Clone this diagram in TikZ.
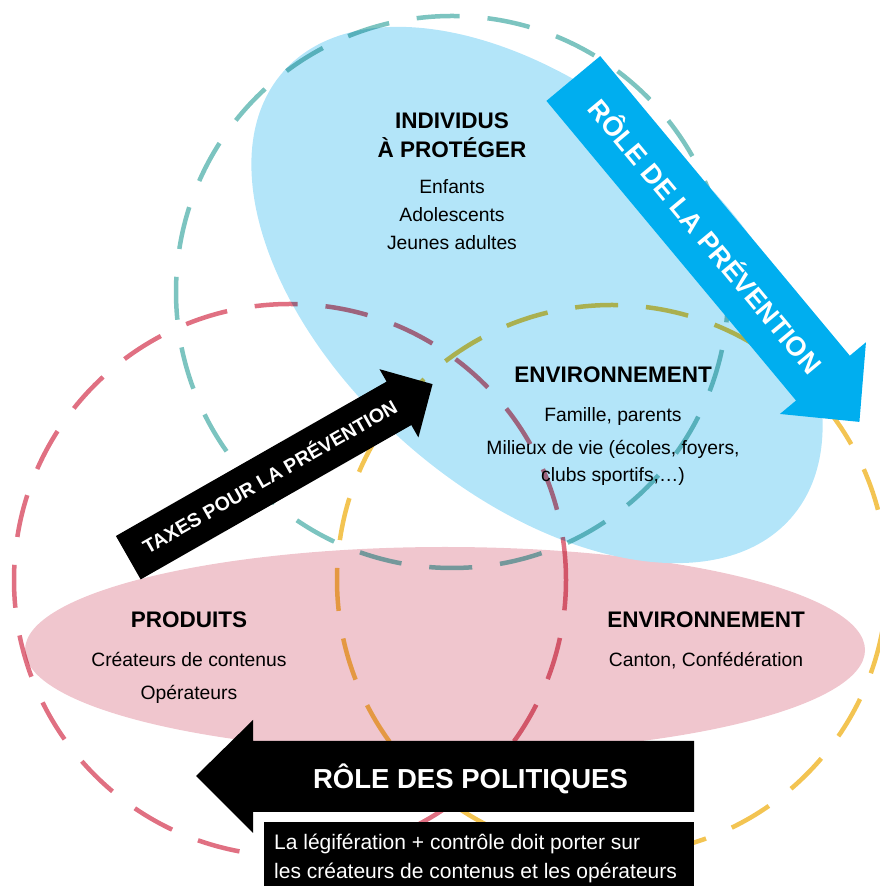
\documentclass[tikz,border=0pt]{standalone}
\usepackage{fontspec}
\setmainfont{Liberation Sans}
\definecolor{pinkfill}{HTML}{F0C6CE}
\definecolor{bluefill}{HTML}{B3E5F9}
\definecolor{tealc}{HTML}{7CC4C0}
\definecolor{redc}{HTML}{E07082}
\definecolor{yelc}{HTML}{F3C452}
\definecolor{arrowblue}{HTML}{00AEEF}
\begin{document}
\begin{tikzpicture}[x=1pt,y=1pt,
  circ/.style={line width=4.5pt, dash pattern=on 43pt off 28pt},
  hd/.style={font=\bfseries\fontsize{22.5}{27}\selectfont, anchor=base, inner sep=0pt},
  bd/.style={font=\fontsize{19.3}{23}\selectfont, anchor=base, inner sep=0pt},
  arrtxt/.style={text=white, inner sep=0pt, anchor=base, transform shape},
]
\useasboundingbox (0,0) rectangle (880,886);
% ellipses
\fill[pinkfill] (445,236) ellipse [x radius=420, y radius=103];
\begin{scope}[shift={(537,591)}, rotate=-41.3]
\fill[bluefill] (0,0) ellipse [x radius=338, y radius=198];
\end{scope}
% dashed circles
\begin{scope}[blend mode=multiply]
\draw[circ, tealc] (452,594) circle [radius=276];
\draw[circ, redc] (290,306) circle [radius=276];
\draw[circ, yelc] (612,306) circle [radius=275];
\end{scope}
% texts in blue ellipse
\node[hd] (indiv1) at (452,757.5) {INDIVIDUS};
\node[hd] (indiv2) at (452,728.5) {À PROTÉGER};
\node[bd] (enf) at (452,692.5) {Enfants};
\node[bd] (ado) at (452,664.5) {Adolescents};
\node[bd] (jeunes) at (452,636) {Jeunes adultes};
\node[hd] (env1) at (613,503) {ENVIRONNEMENT};
\node[bd] (fam) at (613,464) {Famille, parents};
\node[bd] (mil) at (613,431) {Milieux de vie (écoles, foyers,};
\node[bd] (clubs) at (613,404.3) {clubs sportifs,…)};
% texts in pink ellipse
\node[hd] (prod) at (189,258.7) {PRODUITS};
\node[bd] (crea) at (189,219.3) {Créateurs de contenus};
\node[bd] (oper) at (189,186.7) {Opérateurs};
\node[hd] (env2) at (706,258.7) {ENVIRONNEMENT};
\node[bd] (canton) at (706,219.3) {Canton, Confédération};
% blue arrow
\begin{scope}[shift={(573.3,807.5)}, rotate=-50.2]
\fill[arrowblue] (0,35) -- (390,35) -- (390,56) -- (447,0) -- (390,-56) -- (390,-35) -- (0,-35) -- cycle;
\node[arrtxt, font=\bfseries\fontsize{27}{30}\selectfont] (prevtxt) at (206,-9.7) {RÔLE DE LA PRÉVENTION};
\end{scope}
% taxes arrow
\begin{scope}[shift={(128.3,328.3)}, rotate=29.7]
\fill[black] (0,25) -- (311.6,25) -- (311.6,39.3) -- (350.3,0) -- (311.6,-39.3) -- (311.6,-25) -- (0,-25) -- cycle;
\node[arrtxt, font=\bfseries\fontsize{19.5}{22}\selectfont] (taxtxt) at (163,-7) {TAXES POUR LA PRÉVENTION};
\end{scope}
% politiques arrow
\fill[black] (196,110) -- (253,166) -- (253,145) -- (694,145) -- (694,74) -- (253,74) -- (253,53) -- cycle;
\node[text=white, font=\bfseries\fontsize{27.5}{30}\selectfont, anchor=base, inner sep=0pt] (pol) at (470.5,97.7) {RÔLE DES POLITIQUES};
\fill[black] (264,0) rectangle (694,64);
\node[text=white, font=\fontsize{21}{24}\selectfont, anchor=base west, inner sep=0pt] (leg1) at (274,36) {La légifération + contrôle doit porter sur};
\node[text=white, font=\fontsize{21}{24}\selectfont, anchor=base west, inner sep=0pt] (leg2) at (274,7.7) {les créateurs de contenus et les opérateurs};
\end{tikzpicture}
\end{document}
